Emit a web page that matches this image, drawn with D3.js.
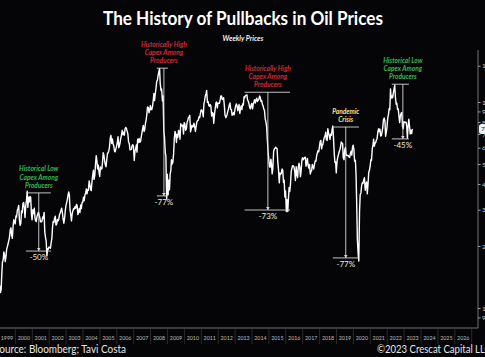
<!DOCTYPE html>
<html><head><meta charset="utf-8">
<script src="https://cdn.jsdelivr.net/npm/d3@7"></script>
<style>
html,body{margin:0;padding:0;background:#050507;}
svg{display:block;}
</style></head>
<body>
<svg id="chart" width="485" height="357"></svg>
<script>
// ---------- DATA ----------
const title = "The History of Pullbacks in Oil Prices";
const subtitle = "Weekly Prices";
const sourceText = "Source: Bloomberg; Tavi Costa";
const copyrightText = "©2023 Crescat Capital LLC";
const startYear = 1999;
const yearLabels = ["1999","2000","2001","2002","2003","2004","2005","2006","2007","2008","2009","2010","2011","2012","2013","2014","2015","2016","2017","2018","2019","2020","2021","2022","2023","2024","2025","2026"];
const priceTicks = [9, 10, 20, 30, 40, 50, 60, 70, 80, 90, 100, 150];
const tickLabels = ["9.0","10.0","20.0","30.0","40.0","50.0","60.0","70.0","80.0","90.0","100.0","150.0"];
const lastPriceLabel = "74.0";
// WTI crude, two readings per month (mid-month, month-end), from Jan 1999
const prices = [
  12.4,12.8, 11.9,12.3, 14.6,16.7, 17.2,18.7, 18.0,16.8, 17.9,19.3, 19.9,20.5, 21.3,22.1, 24.0,24.5, 22.5,21.8, 25.0,26.8, 26.2,25.6,
  28.0,27.6, 29.9,30.5, 31.5,26.9, 25.2,25.7, 29.6,29.0, 32.2,32.5, 30.4,27.5, 31.5,33.2, 36.9,30.8, 34.5,32.7, 34.8,34.4, 28.5,26.8,
  30.0,28.7, 30.5,27.4, 26.5,26.3, 27.9,28.5, 29.2,28.4, 27.4,26.2, 26.2,26.3, 27.7,27.2, 29.1,23.4, 22.0,21.2, 17.9,19.4, 19.3,19.8,
  19.6,19.5, 20.8,21.7, 24.6,26.3, 26.0,27.3, 27.9,25.3, 25.6,26.9, 26.5,27.0, 28.5,28.9, 29.8,30.5, 29.0,27.2, 25.8,26.9, 29.5,31.2,
  32.5,33.5, 35.4,36.6, 35.3,30.0, 28.2,26.5, 28.7,29.6, 30.4,30.2, 31.0,30.5, 31.8,31.5, 28.4,29.2, 30.4,29.1, 31.6,30.4, 32.6,32.5,
  34.5,33.2, 35.4,36.2, 37.8,35.8, 37.5,37.3, 41.4,39.9, 37.6,37.1, 40.9,43.8, 46.6,42.1, 44.2,49.6, 54.9,51.8, 47.3,49.4, 45.5,43.5,
  48.4,47.2, 47.5,51.5, 56.7,55.4, 51.7,49.7, 48.5,51.9, 56.4,56.5, 58.1,60.6, 66.9,68.9, 63.0,66.2, 62.6,61.4, 57.5,57.3, 59.4,61.0,
  63.9,67.8, 60.0,61.4, 63.4,66.6, 69.3,72.9, 69.4,71.3, 69.0,73.9, 75.2,74.4, 72.0,70.1, 63.8,62.9, 58.6,58.7, 58.9,61.5, 62.0,61.0,
  52.0,57.4, 59.4,61.8, 57.1,65.9, 63.6,66.5, 63.8,64.0, 67.7,70.7, 74.0,77.0, 71.9,73.4, 79.1,81.7, 87.6,94.5, 94.0,88.7, 91.3,96.0,
  91.9,91.8, 95.5,101.8, 110.0,101.5, 110.1,116.3, 126.3,127.4, 134.9,140.2, 145.1,123.3, 113.8,115.5, 101.2,106.9, 71.9,67.8, 57.0,54.4, 33.9,44.6,
  35.4,41.7, 37.5,44.8, 46.3,52.4, 50.0,51.1, 56.3,66.3, 72.0,69.9, 63.6,69.5, 67.5,72.7, 72.0,66.0, 78.5,77.0, 76.4,77.3, 69.9,79.4,
  78.0,72.9, 74.1,79.7, 81.2,83.8, 84.5,86.2, 71.6,73.9, 77.2,75.6, 76.0,78.9, 75.4,71.9, 76.5,79.9, 81.3,81.4, 84.9,84.0, 88.0,91.4,
  91.5,89.3, 84.8,98.0, 101.2,106.7, 109.7,113.9, 99.7,100.6, 96.1,95.4, 97.2,95.7, 85.4,88.9, 87.9,78.9, 86.8,92.3, 98.9,100.0, 93.5,98.8,
  98.7,98.5, 102.3,107.1, 107.1,103.0, 102.8,104.9, 96.1,86.5, 84.0,84.9, 87.1,90.1, 92.9,96.5, 99.0,92.2, 91.9,86.3, 86.9,88.9, 86.7,91.8,
  95.6,97.8, 95.9,90.7, 93.5,97.2, 88.0,93.0, 95.7,91.9, 97.9,96.6, 106.0,105.0, 107.5,107.7, 108.2,102.3, 100.8,97.9, 93.8,92.7, 96.6,98.4,
  92.7,97.5, 100.3,102.6, 98.9,101.7, 104.3,100.6, 102.0,102.7, 106.9,105.7, 100.8,101.8, 97.4,96.0, 92.3,91.2, 82.8,80.5, 75.8,66.2, 57.8,53.3,
  48.7,48.2, 52.8,49.8, 44.8,47.6, 57.4,59.2, 59.7,60.3, 59.6,59.5, 50.9,47.1, 40.5,45.2, 44.6,45.1, 47.3,46.6, 40.7,41.7, 34.6,37.0,
  29.4,33.6, 29.4,33.8, 38.5,36.8, 40.4,45.9, 47.7,49.1, 48.9,48.3, 45.9,41.6, 48.5,44.7, 43.0,48.2, 50.4,48.7, 43.4,46.1, 51.9,53.7,
  52.4,53.2, 53.8,53.9, 48.8,50.6, 53.2,49.3, 47.8,49.8, 44.7,46.0, 46.5,49.7, 48.5,47.3, 49.9,51.7, 51.5,54.4, 56.6,58.0, 57.3,60.4,
  64.3,65.1, 59.2,61.6, 62.3,64.9, 67.4,68.1, 71.3,65.8, 65.1,74.2, 71.0,68.7, 65.9,69.8, 68.9,73.3, 76.4,67.6, 56.5,50.9, 51.2,45.3,
  51.6,53.7, 55.6,57.2, 58.5,60.1, 63.9,63.3, 62.8,53.5, 52.5,58.5, 60.2,55.6, 54.9,55.1, 54.9,54.1, 53.8,56.2, 57.7,55.2, 60.1,61.7,
  58.5,51.6, 52.1,44.8, 31.7,21.5, 18.3,16.9, 29.4,35.5, 36.3,39.3, 40.6,40.3, 42.0,42.9, 37.3,40.0, 40.9,35.8, 40.1,45.5, 46.6,48.5,
  52.4,52.2, 59.5,61.5, 66.0,61.0, 63.1,63.6, 65.4,66.3, 71.6,74.1, 71.8,73.9, 68.4,68.7, 71.9,75.0, 82.3,83.6, 80.8,68.2, 71.3,75.2,
  83.8,86.8, 93.1,91.6, 115.7,104.3, 106.9,104.7, 110.5,115.1, 120.7,105.8, 97.6,98.6, 92.1,92.5, 85.1,79.5, 85.6,87.9, 88.9,76.3, 74.3,80.3,
  79.9,79.7, 79.7,76.3, 66.7,75.7, 82.5,76.8, 70.0,72.7, 70.2,74.0
];
// Annotations: label lines, colour key, bracket start/end/vertical dates, peak and trough prices, drawdown
const annLabels = [
  ["Historical Low","Capex Among","Producers"],
  ["Historically High","Capex Among","Producers"],
  ["Historically High","Capex Among","Producers"],
  ["Pandemic","Crisis"],
  ["Historical Low","Capex Among","Producers"]
];
const annColors = ["#2fbf4f","#d8263a","#d8263a","#e9e59a","#2fbf4f"];
const annStart = ["2000-08-15","2008-05-15","2013-07-25","2018-10-15","2022-04-10"];
const annEnd   = ["2002-02-05","2009-01-10","2016-04-01","2020-05-01","2023-04-15"];
const annMid   = ["2001-05-20","2008-10-15","2014-12-10","2019-07-20","2022-12-05"];
const annPeak   = [36.2, 146, 111.5, 75.6, 122];
const annTrough = [18.9, 35.0, 29.9, 17.5, 66.2];
const annPct = ["-50%","-77%","-73%","-77%","-45%"];

// ---------- CHART ----------
const svg = d3.select("#chart");
const W = 485, H = 357;
svg.append("rect").attr("width", W).attr("height", H).attr("fill", "#050507");

const x = d3.scaleTime()
  .domain([new Date(1999, 0, 1), new Date(2027, 0, 1)])
  .range([-1.5, 471.7]);
const y = d3.scaleLog().domain([10, 100]).range([308, 102]);

const parse = d3.timeParse("%Y-%m-%d");
const series = prices.map((p, i) => {
  const yr = startYear + Math.floor(i / 24);
  const m = Math.floor((i % 24) / 2);
  return { date: new Date(yr, m, i % 2 ? 27 : 13), v: p };
});

// bottom axis line
svg.append("line").attr("x1", 0).attr("x2", 478).attr("y1", 328).attr("y2", 328)
  .attr("stroke", "#8a8a8a").attr("stroke-width", 0.8);

// year cells
const years = yearLabels.map(s => +s);
const yg = svg.append("g");
years.concat([2027]).forEach(yr => {
  const px = x(new Date(yr, 0, 1));
  yg.append("line").attr("x1", px).attr("x2", px).attr("y1", 328).attr("y2", 344)
    .attr("stroke", "#3a3a3a").attr("stroke-width", 0.7);
});
yearLabels.forEach((lab, i) => {
  const px = (x(new Date(years[i], 0, 1)) + x(new Date(years[i] + 1, 0, 1))) / 2;
  yg.append("text").attr("x", px).attr("y", 340).attr("text-anchor", "middle")
    .attr("font-family", "Lato, 'Open Sans', sans-serif").attr("font-size", 5.3)
    .attr("fill", "#bdbdbd").text(lab);
});

// right axis
const rightAxis = d3.axisRight(y).tickValues(priceTicks)
  .tickFormat((d, i) => tickLabels[i]).tickSize(2.5).tickPadding(1.5);
const ra = svg.append("g").attr("transform", "translate(478,0)").call(rightAxis);
ra.select(".domain").attr("d", "M0,50V328").attr("stroke", "#8a8a8a").attr("stroke-width", 0.8);
ra.selectAll(".tick line").attr("stroke", "#a0a0a0");
ra.selectAll(".tick text").attr("fill", "#c8c8c8").attr("font-size", 6.5)
  .attr("font-family", "Lato, 'Open Sans', sans-serif");

// price line
const line = d3.line().x(d => x(d.date)).y(d => y(d.v)).curve(d3.curveLinear);
svg.append("path").datum(series).attr("d", line)
  .attr("fill", "none").attr("stroke", "#ffffff").attr("stroke-width", 1.4)
  .attr("stroke-linejoin", "round");

// last price tag
const last = series[series.length - 1];
svg.append("rect").attr("x", 479).attr("y", y(last.v) - 5).attr("width", 14).attr("height", 10)
  .attr("rx", 2.5).attr("fill", "#f2f2f2");
svg.append("text").attr("x", 481).attr("y", y(last.v) + 2.3)
  .attr("font-family", "Lato, sans-serif").attr("font-size", 6.5).attr("fill", "#111")
  .text(lastPriceLabel);

// annotations
const ag = svg.append("g");
annLabels.forEach((lines, i) => {
  const x0 = x(parse(annStart[i])), x1 = x(parse(annEnd[i])), xm = x(parse(annMid[i]));
  const yp = y(annPeak[i]), yt = y(annTrough[i]);
  const col = "#d8d8d8";
  ag.append("line").attr("x1", x0).attr("x2", x1).attr("y1", yp).attr("y2", yp)
    .attr("stroke", col).attr("stroke-width", 0.9);
  ag.append("line").attr("x1", x0).attr("x2", x1).attr("y1", yt).attr("y2", yt)
    .attr("stroke", col).attr("stroke-width", 0.9);
  ag.append("line").attr("x1", xm).attr("x2", xm).attr("y1", yp).attr("y2", yt)
    .attr("stroke", col).attr("stroke-width", 0.9);
  ag.append("path").attr("d", `M${xm - 1.8},${yt - 3}L${xm + 1.8},${yt - 3}L${xm},${yt}Z`)
    .attr("fill", col);
  const n = lines.length;
  lines.forEach((t, k) => {
    ag.append("text").attr("x", xm).attr("y", yp - 5 - (n - 1 - k) * 8.3)
      .attr("text-anchor", "middle").attr("font-family", "Lato, 'Open Sans', sans-serif")
      .attr("font-style", "italic").attr("font-weight", "bold").attr("font-size", 6.6)
      .attr("fill", annColors[i]).text(t);
  });
  ag.append("text").attr("x", xm).attr("y", yt + 8.8).attr("text-anchor", "middle")
    .attr("font-family", "Lato, 'Open Sans', sans-serif").attr("font-size", 8)
    .attr("fill", "#eeeccc").text(annPct[i]);
});

// titles
svg.append("text").attr("x", 243).attr("y", 25).attr("text-anchor", "middle")
  .attr("font-family", "Lato, 'Open Sans', sans-serif").attr("font-weight", "bold")
  .attr("font-size", 18.5).attr("fill", "#ffffff")
  .attr("textLength", 280).attr("lengthAdjust", "spacingAndGlyphs").text(title);
svg.append("text").attr("x", 243).attr("y", 41).attr("text-anchor", "middle")
  .attr("font-family", "Lato, 'Open Sans', sans-serif").attr("font-weight", "bold")
  .attr("font-style", "italic").attr("font-size", 7).attr("fill", "#f0f0f0").text(subtitle);

// footer
svg.append("text").attr("x", -6).attr("y", 353)
  .attr("font-family", "Lato, 'Open Sans', sans-serif").attr("font-size", 10.5)
  .attr("fill", "#e6e6e6").attr("textLength", 132).attr("lengthAdjust", "spacingAndGlyphs")
  .text(sourceText);
svg.append("text").attr("x", 377).attr("y", 353)
  .attr("font-family", "Lato, 'Open Sans', sans-serif").attr("font-size", 10.5)
  .attr("fill", "#e6e6e6").attr("textLength", 114).attr("lengthAdjust", "spacingAndGlyphs")
  .text(copyrightText);
</script>
</body></html>
